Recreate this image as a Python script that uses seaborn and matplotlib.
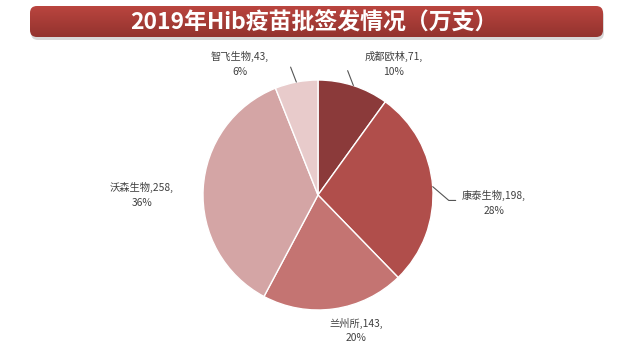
import numpy as np
import matplotlib
matplotlib.use("Agg")
import matplotlib.pyplot as plt
import seaborn as sns
from matplotlib.patches import FancyBboxPatch

# ---- data ----
companies = ["成都欧林", "康泰生物", "兰州所", "沃森生物", "智飞生物"]
doses = [71, 198, 143, 258, 43]
title = "2019年Hib疫苗批签发情况（万支）"

colors = ["#8B3A3A", "#B04E4B", "#C47472", "#D4A5A5", "#E8CBCB"]

sns.set_theme(style="white")
plt.rcParams['font.family'] = ['Noto Sans CJK SC', 'DejaVu Sans']

W, H = 626, 354
fig = plt.figure(figsize=(W / 100, H / 100), dpi=100)
fig.patch.set_facecolor("white")

# ---- title banner ----
bx0, by0, bw, bh = 30, 6, 573, 31
# soft shadow
sax = fig.add_axes([(bx0 + 1) / W, 1 - (by0 + bh + 3) / H, bw / W, bh / H])
sax.axis("off")
sax.add_patch(FancyBboxPatch((0, 0), 1, 1, boxstyle="round,pad=0,rounding_size=0.012",
                             transform=sax.transAxes, facecolor="#d8d8d8", edgecolor="none",
                             mutation_aspect=bw / bh))
bax = fig.add_axes([bx0 / W, 1 - (by0 + bh) / H, bw / W, bh / H])
bax.set_xlim(0, 1)
bax.set_ylim(0, 1)
bax.axis("off")
grad = np.linspace(0, 1, 64).reshape(-1, 1)
top = np.array([0xBA, 0x45, 0x3F]) / 255
bot = np.array([0x93, 0x33, 0x2E]) / 255
img = top[None, None, :] * (1 - grad[:, :, None]) + bot[None, None, :] * grad[:, :, None]
im = bax.imshow(img, extent=[0, 1, 0, 1], aspect="auto", origin="upper")
clip = FancyBboxPatch((0, 0), 1, 1, boxstyle="round,pad=0,rounding_size=0.012",
                      transform=bax.transAxes, facecolor="none", edgecolor="none",
                      mutation_aspect=bw / bh)
bax.add_patch(clip)
im.set_clip_path(clip)
bax.text(0.495, 0.47, title, ha="center", va="center", color="white",
         fontsize=16.5, fontweight="bold", transform=bax.transAxes)

# ---- pie ----
cx, cy, r = 318, 195, 115
ax = fig.add_axes([(cx - r) / W, (H - cy - r) / H, 2 * r / W, 2 * r / H])
wedges, _ = ax.pie(doses, colors=colors, startangle=90, counterclock=False,
                   radius=1.0, wedgeprops=dict(edgecolor="white", linewidth=1.0))
ax.set_xlim(-1, 1)
ax.set_ylim(-1, 1)
ax.set_aspect("equal")

total = sum(doses)
# label layout (text centres in axis units) and leader flags
label_pos = [(0.66, 1.14), (1.53, -0.07), (0.33, -1.18), (-1.53, 0.0), (-0.68, 1.14)]
leader = [True, True, False, False, True]

for i, (w, name, v) in enumerate(zip(wedges, companies, doses)):
    pct = round(100 * v / total)
    tx, ty = label_pos[i]
    ax.text(tx, ty, f"{name},{v},\n{pct}%", ha="center", va="center",
            fontsize=7.4, color="#404040", linespacing=1.55)
    if leader[i]:
        ang = np.deg2rad((w.theta1 + w.theta2) / 2)
        x0, y0 = np.cos(ang), np.sin(ang)
        if i == 1:
            xs = [x0, x0 + 0.14, x0 + 0.2]
            ys = [y0, y0 - 0.12, y0 - 0.12]
        else:
            xs = [x0, x0 - 0.05]
            ys = [y0, y0 + 0.13]
        ax.plot(xs, ys, color="#555555", linewidth=0.8, clip_on=False)

fig.savefig("out.png", dpi=100, facecolor="white")
